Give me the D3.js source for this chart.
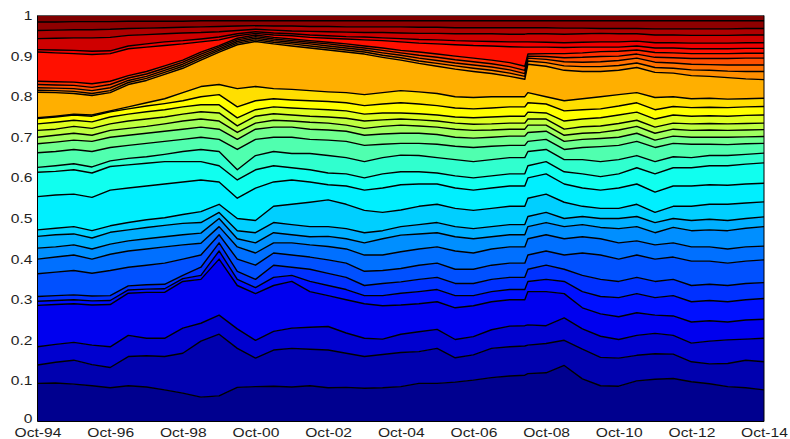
<!DOCTYPE html>
<html>
<head>
<meta charset="utf-8">
<script src="https://cdn.jsdelivr.net/npm/d3@7"></script>
<style>
  body { margin: 0; background: #fff; }
  svg { display: block; }
  .tick text { font-family: "Liberation Sans", Arial, sans-serif; fill: #1e1e1e; }
</style>
</head>
<body>
<svg id="chart" width="790" height="439"></svg>
<script>
// Observation dates
const dates = ["Oct-94","Apr-95","Oct-95","Apr-96","Oct-96","Apr-97","Oct-97","Apr-98","Oct-98","Apr-99",
  "Oct-99","Apr-00","Oct-00","Apr-01","Oct-01","Apr-02","Oct-02","Apr-03","Oct-03","Apr-04",
  "Oct-04","Apr-05","Oct-05","Apr-06","Oct-06","Apr-07","Oct-07","Mar-08","Apr-08","Oct-08","Apr-09",
  "Oct-09","Apr-10","Oct-10","Apr-11","Oct-11","Apr-12","Oct-12","Apr-13","Oct-13","Apr-14","Oct-14"];

// Cumulative shares: upper edge of each band, bottom band first
const cum01 = [.094,.095,.092,.088,.083,.088,.085,.078,.070,.060,.063,.084,.086,.087,.085,.088,.083,.084,.082,.083,.086,.094,.094,.097,.102,.108,.112,.114,.118,.120,.138,.105,.088,.087,.100,.104,.106,.098,.093,.086,.083,.078];
const cum02 = [.139,.146,.151,.140,.133,.160,.162,.160,.168,.198,.215,.180,.156,.176,.180,.178,.176,.168,.160,.165,.170,.172,.180,.157,.164,.180,.184,.186,.188,.192,.200,.178,.158,.156,.163,.167,.166,.147,.142,.143,.151,.147];
const cum03 = [.184,.190,.195,.188,.184,.212,.205,.205,.230,.242,.262,.228,.200,.222,.230,.232,.234,.218,.205,.203,.215,.221,.227,.202,.209,.226,.235,.236,.238,.236,.255,.228,.210,.202,.212,.217,.212,.193,.198,.201,.203,.205];
const cum04 = [.286,.288,.290,.287,.288,.316,.318,.318,.345,.350,.400,.335,.315,.335,.345,.320,.310,.300,.290,.285,.287,.290,.295,.280,.285,.295,.300,.300,.320,.320,.315,.280,.265,.258,.268,.262,.260,.245,.248,.245,.250,.252];
const cum05 = [.296,.298,.300,.297,.298,.324,.326,.327,.352,.360,.420,.350,.330,.355,.360,.345,.335,.325,.310,.310,.316,.320,.325,.310,.310,.320,.325,.325,.345,.350,.345,.320,.308,.305,.315,.305,.310,.295,.298,.295,.300,.303];
const cum06 = [.308,.310,.312,.309,.310,.334,.337,.338,.360,.380,.440,.370,.350,.385,.380,.375,.365,.355,.335,.340,.344,.350,.355,.340,.340,.350,.355,.355,.375,.385,.375,.360,.350,.345,.355,.345,.350,.335,.338,.335,.340,.342];
const cum07 = [.364,.368,.372,.365,.372,.380,.385,.390,.400,.410,.460,.400,.385,.415,.410,.405,.398,.390,.370,.372,.377,.385,.390,.375,.375,.385,.390,.390,.410,.420,.410,.415,.410,.400,.410,.400,.405,.395,.395,.390,.395,.398];
const cum08 = [.400,.405,.410,.400,.412,.420,.425,.430,.435,.439,.480,.430,.415,.440,.440,.435,.431,.425,.410,.410,.418,.425,.430,.420,.415,.425,.430,.430,.450,.460,.450,.455,.450,.440,.445,.435,.440,.430,.430,.425,.430,.432];
const cum09 = [.427,.430,.435,.425,.437,.445,.450,.455,.460,.464,.500,.450,.440,.465,.460,.455,.456,.450,.440,.450,.459,.462,.465,.455,.450,.455,.460,.460,.480,.490,.480,.485,.478,.475,.480,.465,.478,.470,.472,.470,.476,.480];
const cum10 = [.456,.460,.462,.452,.466,.472,.478,.483,.488,.490,.515,.470,.465,.490,.485,.480,.480,.475,.465,.470,.480,.485,.490,.480,.475,.480,.485,.485,.505,.515,.500,.505,.500,.500,.505,.490,.500,.495,.498,.495,.500,.504];
const cum11 = [.472,.476,.480,.470,.482,.490,.497,.502,.510,.517,.535,.500,.495,.530,.535,.540,.546,.535,.520,.515,.521,.530,.535,.525,.520,.525,.530,.530,.550,.560,.540,.530,.525,.525,.535,.515,.530,.530,.535,.535,.538,.541];
const cum12 = [.554,.558,.560,.552,.570,.575,.580,.585,.590,.595,.590,.550,.575,.590,.595,.590,.583,.580,.570,.575,.583,.585,.585,.575,.570,.575,.580,.580,.600,.610,.585,.575,.570,.575,.585,.565,.580,.580,.583,.582,.585,.587];
const cum13 = [.614,.616,.620,.612,.628,.632,.636,.640,.640,.640,.630,.595,.620,.630,.625,.620,.612,.610,.600,.610,.615,.615,.612,.605,.600,.605,.610,.610,.630,.640,.615,.610,.603,.610,.625,.610,.625,.625,.630,.630,.634,.637];
const cum14 = [.626,.630,.635,.627,.642,.648,.652,.658,.665,.670,.665,.620,.655,.665,.660,.660,.655,.650,.640,.650,.656,.655,.650,.645,.640,.645,.650,.650,.665,.670,.645,.645,.640,.645,.655,.640,.652,.650,.655,.655,.658,.661];
const cum15 = [.662,.665,.670,.665,.675,.680,.685,.690,.695,.700,.695,.670,.695,.700,.700,.695,.693,.690,.680,.683,.685,.685,.683,.678,.675,.678,.680,.680,.690,.695,.670,.675,.677,.680,.690,.675,.685,.683,.683,.682,.684,.685];
const cum16 = [.684,.688,.693,.690,.700,.705,.710,.715,.720,.725,.720,.695,.720,.725,.725,.720,.718,.715,.705,.708,.710,.710,.707,.700,.698,.700,.703,.703,.712,.715,.690,.695,.697,.700,.710,.693,.703,.700,.700,.700,.701,.702];
const cum17 = [.700,.705,.710,.705,.717,.722,.727,.733,.740,.745,.740,.712,.735,.742,.740,.737,.735,.730,.722,.727,.730,.728,.725,.720,.717,.718,.720,.720,.730,.730,.705,.710,.712,.718,.727,.710,.720,.717,.718,.717,.718,.719];
const cum18 = [.717,.720,.727,.722,.733,.740,.745,.750,.757,.763,.760,.728,.752,.758,.755,.752,.750,.747,.740,.743,.745,.743,.740,.735,.732,.733,.735,.735,.745,.745,.720,.726,.728,.734,.742,.725,.735,.733,.734,.733,.734,.735];
const cum19 = [.733,.737,.742,.738,.750,.757,.763,.768,.775,.780,.780,.748,.768,.775,.772,.770,.768,.765,.757,.760,.760,.758,.755,.750,.748,.750,.752,.752,.762,.760,.740,.745,.748,.755,.762,.745,.755,.752,.753,.752,.754,.755];
const cum20 = [.746,.750,.755,.752,.763,.770,.777,.783,.790,.800,.805,.775,.790,.795,.792,.790,.788,.785,.778,.782,.785,.782,.778,.772,.770,.772,.775,.775,.785,.782,.765,.768,.770,.777,.785,.768,.776,.773,.774,.773,.775,.776];
const cum21 = [.748,.752,.757,.755,.765,.775,.785,.795,.810,.825,.830,.820,.825,.820,.818,.815,.812,.810,.805,.810,.815,.812,.808,.800,.798,.800,.800,.800,.810,.800,.790,.795,.800,.805,.810,.798,.800,.795,.796,.794,.795,.796];
const cum22 = [.811,.810,.808,.803,.810,.830,.840,.855,.870,.890,.910,.928,.936,.930,.925,.920,.915,.910,.905,.897,.890,.882,.875,.868,.862,.857,.850,.843,.880,.875,.865,.862,.862,.865,.872,.860,.858,.852,.850,.847,.844,.842];
const cum23 = [.816,.815,.813,.808,.815,.835,.845,.860,.875,.895,.914,.932,.940,.934,.930,.925,.920,.915,.910,.902,.896,.888,.882,.876,.870,.865,.858,.850,.888,.884,.876,.874,.874,.877,.883,.872,.870,.866,.865,.863,.862,.862];
const cum24 = [.822,.821,.820,.815,.822,.840,.850,.865,.880,.900,.918,.936,.944,.938,.934,.930,.925,.920,.915,.908,.902,.895,.889,.883,.878,.873,.866,.857,.895,.892,.886,.885,.886,.889,.895,.885,.883,.880,.879,.878,.878,.878];
const cum25 = [.830,.829,.828,.823,.830,.846,.856,.870,.885,.905,.922,.940,.948,.942,.938,.934,.930,.925,.920,.914,.908,.902,.897,.891,.886,.881,.874,.865,.900,.899,.896,.897,.899,.900,.905,.897,.896,.894,.894,.894,.895,.895];
const cum26 = [.838,.837,.836,.832,.838,.852,.862,.876,.890,.910,.926,.944,.952,.946,.942,.938,.934,.930,.925,.920,.914,.910,.905,.900,.895,.890,.884,.875,.905,.906,.906,.908,.911,.912,.915,.909,.908,.906,.906,.906,.907,.907];
const cum27 = [.910,.908,.906,.904,.906,.918,.922,.926,.930,.935,.940,.950,.956,.952,.950,.946,.944,.942,.940,.938,.935,.932,.930,.928,.926,.925,.923,.922,.922,.922,.921,.922,.922,.922,.925,.920,.920,.918,.918,.918,.919,.919];
const cum28 = [.916,.915,.914,.912,.913,.925,.930,.935,.938,.942,.947,.955,.960,.957,.955,.952,.950,.948,.947,.945,.943,.941,.940,.938,.937,.936,.935,.935,.935,.934,.933,.934,.935,.935,.937,.933,.933,.932,.932,.932,.933,.933];
const cum29 = [.943,.944,.945,.945,.946,.951,.953,.955,.957,.958,.960,.963,.966,.964,.962,.961,.960,.959,.958,.958,.957,.956,.956,.955,.955,.955,.954,.954,.955,.955,.954,.955,.956,.955,.955,.952,.952,.951,.951,.951,.952,.952];
const cum30 = [.963,.964,.965,.965,.966,.968,.969,.970,.971,.972,.973,.974,.975,.974,.974,.973,.973,.972,.972,.972,.972,.971,.971,.970,.970,.970,.970,.970,.970,.970,.969,.969,.968,.968,.968,.967,.967,.967,.967,.967,.968,.968];
const cum31 = [.984,.984,.985,.985,.985,.986,.986,.986,.986,.987,.987,.987,.987,.987,.987,.987,.987,.987,.987,.987,.987,.987,.987,.987,.987,.987,.987,.987,.987,.987,.987,.987,.987,.987,.987,.987,.987,.987,.987,.987,.987,.987];

const xTickLabels = ["Oct-94","Oct-96","Oct-98","Oct-00","Oct-02","Oct-04","Oct-06","Oct-08","Oct-10","Oct-12","Oct-14"];
const yTickValues = [0,0.1,0.2,0.3,0.4,0.5,0.6,0.7,0.8,0.9,1];

const levels = [cum01,cum02,cum03,cum04,cum05,cum06,cum07,cum08,cum09,cum10,cum11,cum12,cum13,cum14,cum15,cum16,
  cum17,cum18,cum19,cum20,cum21,cum22,cum23,cum24,cum25,cum26,cum27,cum28,cum29,cum30,cum31];

// Row of the 64-step jet colour map used for each band, bottom band first
const bandRows = [1,3,5,7,9,11,13,15,17,19,21,23,25,27,29,31,34,36,38,40,42,45,47,49,51,53,55,57,59,61,63,64];

(function draw() {
  const parseMonth = d3.timeParse("%b-%y");
  const times = dates.map(parseMonth);

  const svg = d3.select("#chart");
  const plotLeft = 37.5, plotRight = 764, plotTop = 15.5, plotBottom = 421.5;

  const x = d3.scaleTime()
    .domain([parseMonth(xTickLabels[0]), parseMonth(xTickLabels[xTickLabels.length - 1])])
    .range([plotLeft, plotRight]);
  const y = d3.scaleLinear().domain([0, 1]).range([plotBottom, plotTop]);

  // 64-step jet colour map, row k in 1..64
  function jet64(k) {
    const u = i => (i < 1 || i > 47) ? 0 : (i <= 16 ? i / 16 : (i <= 31 ? 1 : (48 - i) / 16));
    return d3.rgb(255 * u(k - 24), 255 * u(k - 8), 255 * u(k + 8)).toString();
  }

  const nBands = levels.length + 1;
  const lowerOf = (j, i) => j === 0 ? 0 : levels[j - 1][i];
  const upperOf = (j, i) => j === nBands - 1 ? 1 : levels[j][i];

  svg.append("defs").append("clipPath").attr("id", "plot")
    .append("rect").attr("x", plotLeft).attr("y", plotTop)
    .attr("width", plotRight - plotLeft).attr("height", plotBottom - plotTop);

  const plot = svg.append("g").attr("clip-path", "url(#plot)");

  const idx = d3.range(times.length);
  for (let j = 0; j < nBands; j++) {
    const area = d3.area()
      .x(i => x(times[i]))
      .y0(i => y(lowerOf(j, i)))
      .y1(i => y(upperOf(j, i)));
    const col = jet64(bandRows[j]);
    plot.append("path")
      .attr("d", area(idx))
      .attr("fill", col)
      .attr("stroke", col)
      .attr("stroke-width", 0.5);
  }

  const line = d3.line().x((d, i) => x(times[i])).y(d => y(d));
  levels.forEach(series => {
    plot.append("path")
      .attr("d", line(series))
      .attr("fill", "none")
      .attr("stroke", "#000")
      .attr("stroke-width", 1.4)
      .attr("stroke-linejoin", "round");
  });

  // Axes
  const xAxis = d3.axisBottom(x)
    .tickValues(xTickLabels.map(parseMonth))
    .tickFormat(d3.timeFormat("%b-%y"))
    .tickSize(0).tickPadding(7);
  const gx = svg.append("g").attr("transform", `translate(0,${plotBottom})`).call(xAxis);
  gx.select(".domain").remove();
  gx.selectAll(".tick text").attr("font-size", 12.5).attr("transform", "scale(1.25,1)").attr("x", 0);

  const yAxis = d3.axisLeft(y)
    .tickValues(yTickValues)
    .tickFormat(d => d === 0 || d === 1 ? String(d) : d3.format(".1f")(d))
    .tickSize(0).tickPadding(5);
  const gy = svg.append("g").attr("transform", `translate(${plotLeft},0)`).call(yAxis);
  gy.select(".domain").remove();
  gy.selectAll(".tick text").attr("font-size", 12.5)
    .attr("x", -5 / 1.25).attr("transform", "scale(1.25,1)")
    .attr("dy", d => d === 0 ? "0.1em" : "0.32em");

  // Frame
  const frame = (x1, y1, x2, y2, c) => svg.append("line")
    .attr("x1", x1).attr("y1", y1).attr("x2", x2).attr("y2", y2)
    .attr("stroke", c).attr("stroke-width", 1);
  frame(plotLeft, plotTop, plotRight, plotTop, "#555");
  frame(plotLeft, plotBottom, plotRight, plotBottom, "#000");
  frame(plotLeft, plotTop, plotLeft, plotBottom, "#000");
  frame(plotRight, plotTop, plotRight, plotBottom, "#000");
})();
</script>
</body>
</html>
